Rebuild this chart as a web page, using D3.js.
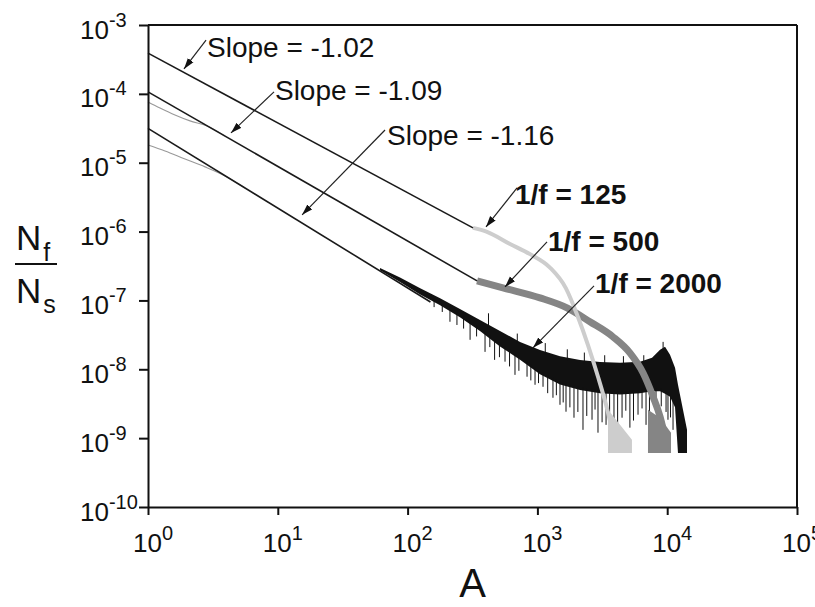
<!DOCTYPE html>
<html>
<head>
<meta charset="utf-8">
<script src="https://cdn.jsdelivr.net/npm/d3@7"></script>
<style>
html, body { margin: 0; padding: 0; background: #fff; overflow: hidden; }
svg { display: block; }
text { font-family: "Liberation Sans", Arial, sans-serif; }
</style>
</head>
<body>
<div id="chart"></div>
<script>
// axis ticks
const xTicks = [1, 10, 100, 1000, 10000, 100000];
const yTicks = [1e-3, 1e-4, 1e-5, 1e-6, 1e-7, 1e-8, 1e-9, 1e-10];

// fitted power laws, [A, Nf/Ns] end points
const fit102 = [[1, 3.9e-4], [319, 1.13e-6]];
const fit109 = [[1, 1.07e-4], [343, 1.92e-7]];
const fit116 = [[1, 3.16e-5], [150, 9.5e-8]];

// low-A part of the raw data where it leaves the fit
const lowA500 = [[1, 7.63e-5], [1.237, 6.24e-5], [1.614, 4.94e-5], [2.107, 4.05e-5], [2.848, 3.42e-5], [3.92, 2.45e-5]];
const lowA2000 = [[1, 1.81e-5], [1.352, 1.48e-5], [1.928, 1.13e-5], [2.75, 8.7e-6], [3.92, 6.43e-6], [5.59, 4.3e-6]];

// 1/f = 125 (light grey)
const data125 = [[319, 1.13e-6], [409, 9.9e-7], [615, 6.6e-7], [877, 4.7e-7], [1250, 3.0e-7], [1660, 1.5e-7],
  [2050, 5.8e-8], [2450, 2.27e-8], [2930, 7.8e-9], [3380, 3.05e-9], [3760, 1.32e-9]];
const tail125 = [[3500, 2.58e-9], [4330, 1.56e-9], [5350, 9.5e-10]];

// 1/f = 500 (mid grey)
const data500 = [[343, 1.92e-7], [543, 1.52e-7], [1047, 1.09e-7], [1690, 7.8e-8], [2540, 4.9e-8], [3820, 2.96e-8],
  [5160, 1.73e-8], [6510, 8.9e-9], [7780, 4.0e-9], [8810, 2.05e-9], [9450, 1.2e-9]];
const tail500 = [[7110, 2.58e-9], [8810, 1.98e-9], [10700, 1.2e-9]];

// 1/f = 2000 (black, noisy): [A, upper, lower]
const band2000 = [
  [61.3, 2.95e-7, 2.75e-7], [87.4, 2.15e-7, 1.85e-7], [125, 1.50e-7, 1.22e-7], [178, 1.08e-7, 8.5e-8],
  [253, 7.5e-8, 5.7e-8], [361, 5.2e-8, 3.6e-8], [515, 3.6e-8, 2.15e-8], [735, 2.5e-8, 1.38e-8],
  [1047, 1.9e-8, 8.5e-9], [1493, 1.55e-8, 6.0e-9], [2130, 1.36e-8, 5.0e-9], [3035, 1.28e-8, 4.5e-9],
  [4330, 1.24e-8, 4.3e-9], [6170, 1.29e-8, 4.5e-9], [7640, 1.47e-8, 4.8e-9], [8810, 1.92e-8, 4.8e-9],
  [9620, 2.12e-8, 4.4e-9], [10510, 1.62e-8, 4.0e-9], [11490, 1.05e-8, 2.8e-9], [12110, 5.96e-9, 6.1e-10],
  [13470, 2.19e-9, 6.1e-10], [14210, 1.32e-9, 6.1e-10]];
// downward noise spikes: [A, lowest value]
const spikes2000 = [[160, 8.0e-8], [185, 6.8e-8], [212, 4.9e-8], [240, 4.4e-8], [270, 3.9e-8], [303, 2.68e-8],
  [340, 3.0e-8], [395, 1.79e-8], [430, 2.1e-8], [468, 1.37e-8], [510, 1.5e-8], [563, 1.29e-8], [610, 1.1e-8],
  [672, 8.3e-9], [720, 9.5e-9], [832, 7.8e-9], [890, 6.9e-9], [959, 5.96e-9], [1020, 6.3e-9], [1105, 5.57e-9],
  [1200, 4.5e-9], [1318, 3.86e-9], [1400, 4.2e-9], [1493, 3.05e-9], [1580, 3.3e-9], [1661, 2.42e-9],
  [1780, 2.8e-9], [1914, 1.98e-9], [2050, 2.4e-9], [2245, 1.32e-9], [2400, 2.1e-9], [2635, 1.85e-9],
  [2780, 2.6e-9], [2930, 1.2e-9], [3150, 1.7e-9], [3380, 1.56e-9], [3600, 2.3e-9], [3890, 1.24e-9],
  [4150, 1.6e-9], [4490, 1.98e-9], [4800, 2.5e-9], [5160, 1.42e-9], [5500, 1.8e-9], [5960, 2.19e-9],
  [6400, 2.7e-9], [6870, 1.56e-9], [7300, 2.1e-9], [8200, 2.58e-9], [9000, 2.9e-9], [9800, 2.4e-9],
  [10140, 1.85e-9], [10600, 2.0e-9], [11090, 1.32e-9]];
// upward noise spikes: [A, highest value]
const spikesUp2000 = [[420, 6.5e-8], [700, 3.3e-8], [1150, 2.4e-8], [1700, 1.95e-8], [2300, 1.75e-8],
  [3300, 1.6e-8], [4600, 1.55e-8], [6600, 1.6e-8], [9300, 2.5e-8]];

const floorValue = 6.1e-10;

// annotations: text anchor, arrow start, arrow tip
const notes = [
  {text: 'Slope = -1.02', bold: false, at: [2.85, 3.44e-4], from: [2.80, 6.05e-4], to: [1.894, 2.30e-4]},
  {text: 'Slope = -1.09', bold: false, at: [9.51, 8.15e-5], from: [9.35, 1.07e-4], to: [4.36, 2.71e-5]},
  {text: 'Slope = -1.16', bold: false, at: [69.4, 1.81e-5], from: [67, 2.99e-5], to: [15.4, 1.75e-6]},
  {text: '1/f = 125', bold: true, at: [672, 2.52e-6], from: [697, 4.3e-6], to: [402, 1.17e-6]},
  {text: '1/f = 500', bold: true, at: [1207, 5.25e-7], from: [1186, 7.1e-7], to: [563, 1.57e-7]},
  {text: '1/f = 2000', bold: true, at: [2780, 1.29e-7], from: [2730, 1.63e-7], to: [925, 2.05e-8]}
];

const width = 815, height = 607,
  margin = {top: 25, right: 18, bottom: 100, left: 148},
  innerWidth = width - margin.left - margin.right,
  innerHeight = height - margin.top - margin.bottom;

const svg = d3.select('#chart').append('svg').attr('width', width).attr('height', height);
const g = svg.append('g').attr('transform', `translate(${margin.left},${margin.top})`);

const x = d3.scaleLog().domain([1, 1e5]).range([0, innerWidth]);
const y = d3.scaleLog().domain([1e-10, 1e-3]).range([innerHeight, 0]);

const line = d3.line().x(d => x(d[0])).y(d => y(d[1]));
const smooth = d3.line().x(d => x(d[0])).y(d => y(d[1])).curve(d3.curveMonotoneX);
const tailArea = d3.area().x(d => x(d[0])).y0(y(floorValue)).y1(d => y(d[1]));

// arrow head
svg.append('defs').append('marker')
  .attr('id', 'arrow').attr('markerUnits', 'userSpaceOnUse')
  .attr('markerWidth', 12).attr('markerHeight', 8)
  .attr('refX', 11).attr('refY', 4).attr('orient', 'auto')
  .append('path').attr('d', 'M0,0.5 L11,4 L0,7.5 Z').attr('fill', '#111');

// black noisy series
g.append('path')
  .datum(band2000)
  .attr('d', d3.area().x(d => x(d[0])).y0(d => y(d[2])).y1(d => y(d[1])))
  .attr('fill', '#111');
const lowerAt = d3.scaleLog().domain(band2000.map(d => d[0])).range(band2000.map(d => y(d[2])));
const upperAt = d3.scaleLog().domain(band2000.map(d => d[0])).range(band2000.map(d => y(d[1])));
g.append('g').selectAll('line').data(spikes2000).enter().append('line')
  .attr('x1', d => x(d[0])).attr('x2', d => x(d[0]))
  .attr('y1', d => lowerAt(d[0]) - 3).attr('y2', d => y(d[1]))
  .attr('stroke', '#111').attr('stroke-width', 1);
g.append('g').selectAll('line').data(spikesUp2000).enter().append('line')
  .attr('x1', d => x(d[0])).attr('x2', d => x(d[0]))
  .attr('y1', d => upperAt(d[0]) + 3).attr('y2', d => y(d[1]))
  .attr('stroke', '#111').attr('stroke-width', 1);

// mid grey series
g.append('path').datum(data500).attr('d', smooth)
  .attr('fill', 'none').attr('stroke', '#858585').attr('stroke-width', 7).attr('stroke-linejoin', 'round');
g.append('path').datum(tail500).attr('d', tailArea).attr('fill', '#858585');

// light grey series
g.append('path').datum(data125).attr('d', smooth)
  .attr('fill', 'none').attr('stroke', '#cdcdcd').attr('stroke-width', 4).attr('stroke-linejoin', 'round');
g.append('path').datum(tail125).attr('d', tailArea).attr('fill', '#cdcdcd');

// thin raw curves at small A
[lowA500, lowA2000].forEach(s => {
  g.append('path').datum(s).attr('d', smooth)
    .attr('fill', 'none').attr('stroke', '#999').attr('stroke-width', 1.1);
});

// fit lines
[fit102, fit109, fit116].forEach(s => {
  g.append('path').datum(s).attr('d', line)
    .attr('fill', 'none').attr('stroke', '#1a1a1a').attr('stroke-width', 1.6);
});

// axes
const xAxis = g.append('g')
  .attr('transform', `translate(0,${innerHeight})`)
  .call(d3.axisBottom(x).tickValues(xTicks).tickSize(8).tickSizeOuter(0));
const yAxis = g.append('g')
  .call(d3.axisLeft(y).tickValues(yTicks).tickSize(9).tickSizeOuter(0));
[xAxis, yAxis].forEach(a => {
  a.selectAll('.tick text').remove();
  a.select('.domain').attr('stroke', '#111').attr('stroke-width', 2);
  a.selectAll('.tick line').attr('stroke', '#111').attr('stroke-width', 2);
});

// frame top and right
g.append('line').attr('x1', 0).attr('x2', innerWidth).attr('y1', 0).attr('y2', 0)
  .attr('stroke', '#111').attr('stroke-width', 2);
g.append('line').attr('x1', innerWidth).attr('x2', innerWidth).attr('y1', 0).attr('y2', innerHeight)
  .attr('stroke', '#111').attr('stroke-width', 2);

// tick labels as 10 with superscript
xAxis.selectAll('.tick').append('text')
  .attr('x', -15.5).attr('y', 45).attr('fill', '#111').attr('font-size', 26).attr('text-anchor', 'start')
  .each(function(d) {
    const t = d3.select(this);
    t.append('tspan').text('10');
    t.append('tspan').attr('dy', -12).attr('font-size', 20).text(Math.round(Math.log10(d)));
  });
yAxis.selectAll('.tick').append('text')
  .attr('x', -68).attr('y', 13).attr('fill', '#111').attr('font-size', 26).attr('text-anchor', 'start')
  .each(function(d) {
    const t = d3.select(this);
    t.append('tspan').text('10');
    t.append('tspan').attr('dy', -12).attr('font-size', 20).text(Math.round(Math.log10(d)));
  });

// axis titles
svg.append('text').attr('x', margin.left + x(10 ** 2.5)).attr('y', 597)
  .attr('text-anchor', 'middle').attr('font-size', 40).attr('fill', '#111').text('A');

const yTitle = svg.append('g').attr('fill', '#111');
const nf = yTitle.append('text').attr('x', 16).attr('y', 250).attr('font-size', 35);
nf.append('tspan').text('N');
nf.append('tspan').attr('dx', 2).attr('dy', 11).attr('font-size', 25).text('f');
yTitle.append('line').attr('x1', 15).attr('x2', 57).attr('y1', 264).attr('y2', 264)
  .attr('stroke', '#111').attr('stroke-width', 2);
const ns = yTitle.append('text').attr('x', 16).attr('y', 303).attr('font-size', 35);
ns.append('tspan').text('N');
ns.append('tspan').attr('dx', 2).attr('dy', 10).attr('font-size', 25).text('s');

// annotations
const ann = g.append('g');
ann.selectAll('line').data(notes).enter().append('line')
  .attr('x1', d => x(d.from[0])).attr('y1', d => y(d.from[1]))
  .attr('x2', d => x(d.to[0])).attr('y2', d => y(d.to[1]))
  .attr('stroke', '#222').attr('stroke-width', 1.2)
  .attr('marker-end', 'url(#arrow)');
ann.selectAll('text').data(notes).enter().append('text')
  .attr('x', d => x(d.at[0])).attr('y', d => y(d.at[1]))
  .attr('font-size', 28)
  .attr('font-weight', d => d.bold ? 'bold' : 'normal')
  .attr('fill', '#111')
  .text(d => d.text);
</script>
</body>
</html>
